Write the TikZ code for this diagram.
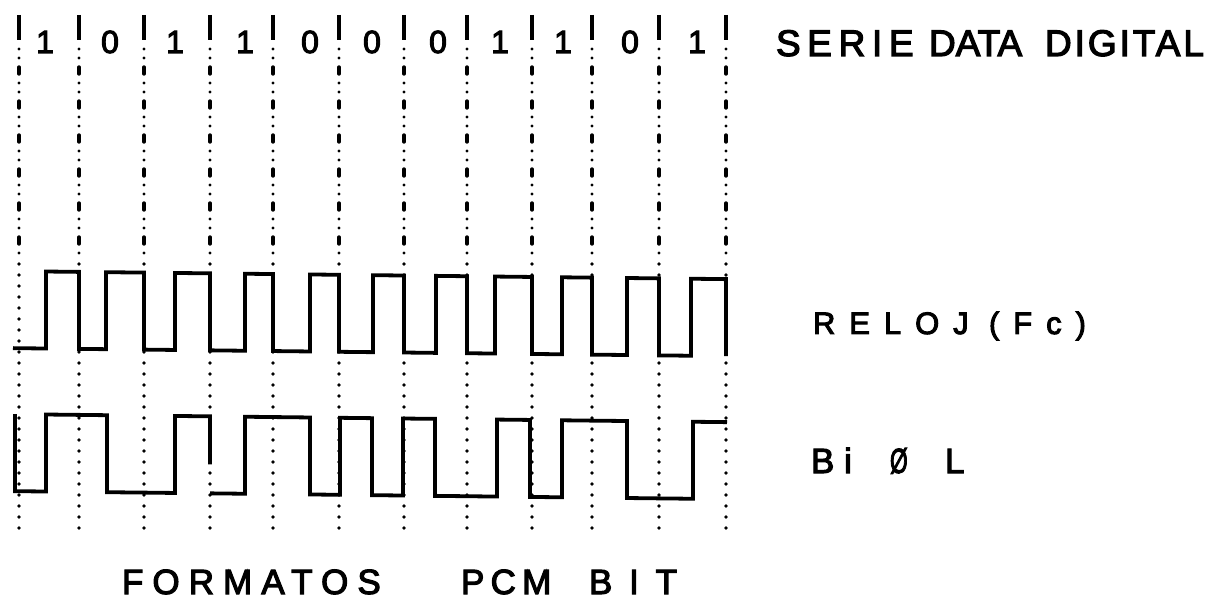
\documentclass[tikz,border=0pt]{standalone}
\usepackage{fontspec}
\usepackage{graphicx}
\setmainfont{Liberation Sans}[FakeBold=3.2]
% size and tracking for the hand-lettered captions
\newcommand\lettering[2]{\fontsize{#1}{#1}\selectfont\addfontfeature{LetterSpace=#2}}
\begin{document}
\begin{tikzpicture}[x=1pt,y=-1pt,
  wave/.style={line width=3.8pt, line join=miter},
  tick/.style={line width=3.6pt},
  guideupper/.style={line width=3.4pt, line cap=round,
    dash pattern=on 0pt off 9pt on 0pt off 9pt on 7pt off 9pt},
  guidelower/.style={line width=3.6pt, line cap=round, dash pattern=on 0pt off 11pt},
  lbl/.style={inner sep=0pt, outer sep=0pt, anchor=base west},
  bitlbl/.style={inner sep=0pt, outer sep=0pt, anchor=base, font=\lettering{32}{0}},
]
\useasboundingbox (0,0) rectangle (1229,601);

% bit-cell boundaries: a short bar at the top, then dash-dot, then dots
\foreach \x in {19,79,144,210,273,339,404,467,532,592,659,726}{
  \draw[tick] (\x,15) -- (\x,40);
  \draw[guideupper] (\x,49) -- (\x,258);
  \draw[guidelower] (\x,264) -- (\x,537);
}

% serial data bits
\foreach \x/\b [count=\i] in {45/1,110/0,175/1,245/1,310/0,372/0,438/0,500/1,563/1,630/0,697/1}{
  \node[bitlbl] (bit\i) at (\x,53) {\b};
}

% waveforms, drawn with a slight downward drift to the right
\begin{scope}[yslant=-0.0112]
  % clock: low in the first half of each bit, high in the second
  \draw[wave] (13,348) -- (46,348) -- (46,271) -- (79,271) -- (79,348)
    -- (106,348) -- (106,271) -- (144,271) -- (144,348)
    -- (175,348) -- (175,271) -- (210,271) -- (210,348)
    -- (245,348) -- (245,271) -- (273,271) -- (273,348)
    -- (310,348) -- (310,271) -- (339,271) -- (339,348)
    -- (373,348) -- (373,271) -- (404,271) -- (404,348)
    -- (436,348) -- (436,271) -- (467,271) -- (467,348)
    -- (495,348) -- (495,271) -- (532,271) -- (532,348)
    -- (562,348) -- (562,271) -- (592,271) -- (592,348)
    -- (627,348) -- (627,271) -- (659,271) -- (659,348)
    -- (691,348) -- (691,271) -- (726,271) -- (726,348);
  % Bi-phase level
  \draw[wave] (15,414) -- (15,491) -- (46,491) -- (46,414) -- (107,414)
    -- (107,491) -- (175,491) -- (175,414) -- (210,414) -- (210,462);
  \draw[wave] (210,491) -- (245,491) -- (245,414) -- (310,414)
    -- (310,491) -- (340,491) -- (340,414) -- (372,414)
    -- (372,491) -- (403,491) -- (403,414) -- (435,414)
    -- (435,491) -- (497,491) -- (497,414) -- (530,414)
    -- (530,491) -- (562,491) -- (562,414) -- (627,414)
    -- (627,491) -- (693,491) -- (693,414) -- (727,414);
\end{scope}

% captions
\node[lbl, font=\lettering{37}{18}] (serie) at (776,56) {SERIE};
\node[lbl, font=\lettering{37}{0}] (data) at (929,56) {DATA};
\node[lbl, font=\lettering{37}{8}] (digital) at (1045,56) {DIGITAL};
\node[lbl, font=\lettering{31}{45}] (reloj) at (813,334) {RELOJ};
\node[lbl, font=\lettering{31}{45}] (fc) at (989,334) {(Fc)};
\node[lbl, font=\lettering{35}{28}] (bi) at (811,473) {Bi};
\node[lbl, font=\lettering{35}{0}] (phi) at (890,473) {\scalebox{0.65}[1]{Ø}};
\node[lbl, font=\lettering{35}{0}] (ell) at (945,473) {L};
\node[lbl, font=\lettering{35}{26}] (formatos) at (122,594) {FORMATOS};
\node[lbl, font=\lettering{35}{18}] (pcm) at (461,594) {PCM};
\node[lbl, font=\lettering{35}{48}] (bit) at (589,594) {BIT};
\end{tikzpicture}
\end{document}
